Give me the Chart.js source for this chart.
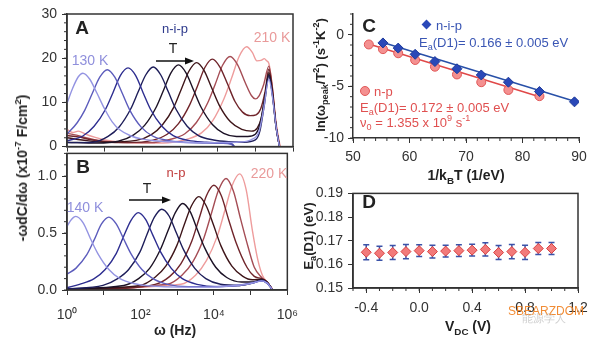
<!DOCTYPE html>
<html><head><meta charset="utf-8">
<script src="https://cdn.jsdelivr.net/npm/chart.js@4.4.1/dist/chart.umd.min.js"></script>
<style>
body{margin:0;background:#fff;}
#wrap{position:relative;width:600px;height:345px;overflow:hidden;font-family:'Liberation Sans',Arial,sans-serif;color:#222;}
canvas{position:absolute;}
.t{position:absolute;transform:translate(-50%,-50%);white-space:nowrap;line-height:1;}
.l{position:absolute;transform:translateY(-50%);white-space:nowrap;line-height:1;}
.b{font-weight:bold;}
.rot{transform:translate(-50%,-50%) rotate(-90deg);}
sub,sup{font-size:70%;line-height:0;}
</style></head><body><div id="wrap">
<canvas id="cA" width="310" height="160" style="left:0;top:0"></canvas>
<canvas id="cB" width="310" height="205" style="left:0;top:140px"></canvas>
<canvas id="cC" width="300" height="172" style="left:300px;top:0"></canvas>
<canvas id="cD" width="300" height="165" style="left:300px;top:180px"></canvas>

<div class="t b rot" style="left:22px;top:168px;font-size:14px">-ωdC/dω (x10<sup>-7</sup> F/cm<sup>2</sup>)</div>
<div class="t b" style="left:82px;top:27px;font-size:19px">A</div>
<div class="t" style="left:175px;top:28px;font-size:13px;color:#2e3a8c">n-i-p</div>
<div class="t" style="left:173px;top:48px;font-size:14px">T</div>
<div class="t" style="left:90px;top:60px;font-size:14px;color:#8f8fdc">130 K</div>
<div class="t" style="left:272px;top:37px;font-size:14px;color:#e99a9a">210 K</div>
<svg style="position:absolute;left:0;top:0" width="300" height="345">
<line x1="156" y1="61" x2="186" y2="61" stroke="#111" stroke-width="1.5"/><polygon points="194,61 185,57.5 185,64.5" fill="#111"/>
<line x1="129" y1="200" x2="163" y2="200" stroke="#111" stroke-width="1.5"/><polygon points="171,200 162,196.5 162,203.5" fill="#111"/>
</svg>
<div class="t b" style="left:83px;top:166px;font-size:19px">B</div>
<div class="t" style="left:176px;top:172px;font-size:13px;color:#c03c3c">n-p</div>
<div class="t" style="left:147px;top:188px;font-size:14px">T</div>
<div class="t" style="left:85px;top:207px;font-size:14px;color:#8f8fdc">140 K</div>
<div class="t" style="left:269px;top:173px;font-size:14px;color:#e99a9a">220 K</div>
<div class="t b" style="left:175px;top:330px;font-size:14px">ω (Hz)</div>

<div class="t b rot" style="left:320px;top:75px;font-size:13px">ln(ω<sub>peak</sub>/T<sup>2</sup>) (s<sup>-1</sup>K<sup>-2</sup>)</div>
<div class="t b" style="left:369px;top:25px;font-size:19px">C</div>
<div style="position:absolute;left:423px;top:21px;width:7px;height:7px;background:#2a48b8;transform:rotate(45deg)"></div>
<div class="l" style="left:436px;top:25px;font-size:13px;color:#3a56b4">n-i-p</div>
<div class="l" style="left:419px;top:42px;font-size:13px;color:#3a56b4">E<sub>a</sub>(D1)= 0.166 ± 0.005 eV</div>
<div style="position:absolute;left:360px;top:86px;width:8px;height:8px;border-radius:50%;background:#f49090;border:1px solid #e05858"></div>
<div class="l" style="left:374px;top:91px;font-size:13px;color:#e05050">n-p</div>
<div class="l" style="left:360px;top:107px;font-size:13px;color:#e05050">E<sub>a</sub>(D1)= 0.172 ± 0.005 eV</div>
<div class="l" style="left:360px;top:122px;font-size:13px;color:#e05050">ν<sub>0</sub> = 1.355 x 10<sup>9</sup> s<sup>-1</sup></div>
<div class="t b" style="left:466px;top:175px;font-size:14px">1/k<sub>B</sub>T (1/eV)</div>

<div class="t b rot" style="left:308px;top:236px;font-size:13px">E<sub>a</sub>(D1) (eV)</div>
<div class="t b" style="left:369px;top:201px;font-size:19px">D</div>
<div class="t b" style="left:468px;top:326px;font-size:14px">V<sub>DC</sub> (V)</div>
<div class="l" style="left:508px;top:311px;font-size:12px;color:#f08020;opacity:0.9">SBEARZDOM</div>
<div class="l" style="left:522px;top:318px;font-size:11px;color:#bbb;opacity:0.7">能源学人</div>
</div>
<script>
// panel A: n-i-p, [log10 ω, -ωdC/dω (1e-7 F/cm2)]
const tempsA=[130,140,150,160,170,180,190,200,210];
const a130=[[0,9.8],[0.15,13.2],[0.3,15.8],[0.42,16.6],[0.6,15.3],[0.8,12.0],[1.0,8.5],[1.2,5.6],[1.4,3.8],[1.7,2.4],[2.0,1.7],[2.5,1.2],[3.0,1.0],[3.5,0.9],[4.0,0.9],[4.5,1.0],[4.9,1.6],[5.1,3.5],[5.22,8.5],[5.36,15.2],[5.45,11.5],[5.55,4.5],[5.64,0]];
const a140=[[0,2.8],[0.27,5.4],[0.47,8.2],[0.67,12.0],[0.87,15.7],[1.07,17.4],[1.27,15.7],[1.47,12.0],[1.67,8.2],[1.97,4.4],[2.27,2.4],[2.67,1.4],[3.1,1.0],[3.8,0.8],[4.35,0.6],[4.42,0]];
const a150=[[0,1.3],[0.42,2.4],[0.72,4.6],[1.02,8.4],[1.22,12.2],[1.42,16.1],[1.62,17.8],[1.82,16.1],[2.02,12.2],[2.22,8.4],[2.52,4.6],[2.82,2.5],[3.22,1.4],[3.7,1.0],[4.1,0.8],[4.38,0.6],[4.45,0]];
const a160=[[0,0.9],[0.69,1.0],[1.09,2.3],[1.39,4.5],[1.69,8.5],[1.89,12.4],[2.09,16.2],[2.29,18.0],[2.49,16.2],[2.69,12.4],[2.89,8.5],[3.19,4.6],[3.49,2.5],[3.89,1.5],[4.3,1.1],[4.7,1.0],[5.0,1.5],[5.12,3.5],[5.24,9.5],[5.36,16.0],[5.45,12.0],[5.55,4.5],[5.64,0]];
const a170=[[0,1.0],[0.8,0.8],[1.36,1.2],[1.76,2.6],[2.06,4.8],[2.36,8.8],[2.56,12.7],[2.76,16.7],[2.96,18.5],[3.16,16.7],[3.36,12.8],[3.56,8.9],[3.86,5.0],[4.16,3.0],[4.5,2.3],[4.8,2.3],[5.0,2.8],[5.12,5.0],[5.24,10.5],[5.36,16.3],[5.45,12.0],[5.55,4.5],[5.64,0]];
const a180=[[0,2.0],[0.4,1.5],[1.0,1.0],[1.84,1.4],[2.24,2.7],[2.54,5.0],[2.84,9.0],[3.04,13.1],[3.24,17.1],[3.44,19.0],[3.64,17.2],[3.84,13.3],[4.04,9.4],[4.34,5.6],[4.64,3.9],[4.9,3.5],[5.05,4.2],[5.16,6.5],[5.26,11.5],[5.36,16.8],[5.45,12.5],[5.55,4.5],[5.64,0]];
const a190=[[0,2.5],[0.3,2.2],[0.6,1.6],[1.0,1.1],[1.6,0.9],[2.26,1.4],[2.66,2.8],[2.96,5.2],[3.26,9.5],[3.46,13.6],[3.66,17.9],[3.86,19.8],[4.06,18.0],[4.26,14.2],[4.46,10.2],[4.66,7.8],[4.86,7.0],[5.02,7.2],[5.14,8.5],[5.26,12.5],[5.36,17.5],[5.45,13.0],[5.55,4.5],[5.64,0]];
const a200=[[0,3.0],[0.25,2.6],[0.5,2.0],[0.9,1.3],[1.5,0.9],[2.2,0.9],[2.73,1.6],[3.13,2.9],[3.43,5.4],[3.73,9.8],[3.93,14.0],[4.13,18.4],[4.33,20.4],[4.53,18.5],[4.73,14.5],[4.9,11.5],[5.0,10.8],[5.1,11.5],[5.22,14.0],[5.36,18.2],[5.45,13.5],[5.55,5.0],[5.65,0]];
const a210=[[0,3.9],[0.15,3.2],[0.3,3.5],[0.5,2.8],[0.75,2.1],[1.0,1.5],[1.5,1.0],[2.2,0.8],[2.8,1.0],[3.17,1.6],[3.57,3.1],[3.87,5.9],[4.17,10.9],[4.37,15.5],[4.57,20.4],[4.77,22.6],[4.92,21.3],[5.04,19.4],[5.15,19.5],[5.24,19.9],[5.3,19.4],[5.36,18.8],[5.45,13.5],[5.55,5.5],[5.66,0]];
const curvesA=[a130,a140,a150,a160,a170,a180,a190,a200,a210];

// panel B: n-p
const tempsB=[140,150,160,170,180,190,200,210,220];
const b140=[[0,0.56],[0.12,0.62],[0.24,0.647],[0.44,0.59],[0.64,0.45],[0.84,0.32],[1.14,0.18],[1.44,0.10],[1.84,0.055],[2.3,0.035],[3.0,0.025],[3.8,0.025],[4.4,0.035],[4.9,0.05],[5.15,0.07],[5.3,0.08],[5.45,0.06],[5.58,0.01]];
const b150=[[0,0.14],[0.24,0.19],[0.54,0.31],[0.74,0.44],[0.94,0.58],[1.14,0.64],[1.34,0.58],[1.54,0.45],[1.74,0.32],[2.04,0.18],[2.34,0.10],[2.74,0.05],[3.3,0.03],[4.0,0.03],[4.6,0.04],[5.0,0.06],[5.3,0.08],[5.45,0.06],[5.58,0.01]];
const b160=[[0,0.02],[0.34,0.05],[0.74,0.1],[1.04,0.18],[1.34,0.32],[1.54,0.47],[1.74,0.61],[1.94,0.68],[2.14,0.62],[2.34,0.48],[2.54,0.34],[2.84,0.19],[3.14,0.10],[3.54,0.05],[4.1,0.03],[4.7,0.04],[5.05,0.06],[5.3,0.08],[5.45,0.06],[5.58,0.01]];
const b170=[[0,0.01],[0.98,0.04],[1.38,0.1],[1.68,0.18],[1.98,0.33],[2.18,0.49],[2.38,0.64],[2.58,0.71],[2.78,0.65],[2.98,0.50],[3.18,0.35],[3.48,0.19],[3.78,0.10],[4.18,0.05],[4.7,0.04],[5.05,0.06],[5.3,0.085],[5.45,0.06],[5.58,0.01]];
const b180=[[0,0.01],[1.55,0.04],[1.95,0.1],[2.25,0.19],[2.55,0.36],[2.75,0.52],[2.95,0.68],[3.15,0.76],[3.35,0.69],[3.55,0.53],[3.75,0.37],[4.05,0.2],[4.35,0.11],[4.75,0.07],[5.05,0.07],[5.3,0.09],[5.45,0.065],[5.58,0.01]];
const b190=[[0,0.01],[1.99,0.04],[2.39,0.11],[2.69,0.21],[2.99,0.39],[3.19,0.57],[3.39,0.74],[3.59,0.82],[3.79,0.74],[3.99,0.57],[4.19,0.39],[4.49,0.21],[4.79,0.12],[5.05,0.09],[5.3,0.095],[5.45,0.07],[5.58,0.01]];
const b200=[[0,0.01],[0.8,0.01],[2.4,0.05],[2.8,0.12],[3.1,0.23],[3.4,0.43],[3.6,0.63],[3.8,0.83],[4.0,0.92],[4.2,0.83],[4.4,0.62],[4.6,0.42],[4.9,0.2],[5.1,0.12],[5.3,0.1],[5.45,0.07],[5.58,0.01]];
const b210=[[0,0.01],[2.73,0.05],[3.13,0.13],[3.43,0.25],[3.73,0.46],[3.93,0.67],[4.13,0.88],[4.33,0.98],[4.53,0.87],[4.73,0.62],[4.93,0.38],[5.1,0.2],[5.3,0.11],[5.45,0.07],[5.58,0.01]];
const b220=[[0,0.01],[3.1,0.05],[3.5,0.13],[3.8,0.26],[4.1,0.48],[4.3,0.7],[4.5,0.92],[4.7,1.02],[4.88,0.88],[5.05,0.52],[5.2,0.26],[5.32,0.13],[5.45,0.07],[5.6,0.01]];
const curvesB=[b140,b150,b160,b170,b180,b190,b200,b210,b220];

// panel C: Arrhenius
const nipX=[55.3,58.0,61.0,64.5,68.4,72.7,77.5,83.0,89.2];
const nipY=[-0.8,-1.3,-1.9,-2.6,-3.3,-3.9,-4.6,-5.5,-6.5];
const npX=[52.8,55.3,58.0,61.0,64.5,68.4,72.7,77.5,83.0];
const npY=[-0.95,-1.4,-1.8,-2.45,-3.1,-3.85,-4.6,-5.35,-5.95];
const nipFitX=[55.3,89.2], nipFitY=[-0.75,-6.45];
const npFitX=[52.8,83.0], npFitY=[-0.9,-6.0];

// panel D: Ea vs VDC
const vdc=[-0.4,-0.3,-0.2,-0.1,0.0,0.1,0.2,0.3,0.4,0.5,0.6,0.7,0.8,0.9,1.0];
const eaD=[0.1651,0.1647,0.1650,0.1654,0.1658,0.1654,0.1656,0.1658,0.1660,0.1663,0.1650,0.1654,0.1651,0.1667,0.1667];
const eaErr=[0.0032,0.003,0.003,0.003,0.0025,0.0027,0.0025,0.0025,0.0025,0.0028,0.003,0.003,0.003,0.0025,0.0025];

const decadeTicks=[1,10,100,1e3,1e4,1e5,1e6];
const lineColors=['#9494e2','#5c5cbc','#2e2e90','#1e1e5a','#1c1226','#3e1519','#70252b','#a54d55','#ee9c9c'];
const axisC='#333', font={family:"'Liberation Sans', Arial, sans-serif",size:14};
const supDigit={0:'⁰',2:'²',4:'⁴',6:'⁶'};

const frame={id:'frame',afterDraw(chart,args,opts){if(!opts.on)return;const a=chart.chartArea,ctx=chart.ctx;ctx.save();ctx.strokeStyle=axisC;ctx.lineWidth=1.5;ctx.strokeRect(a.left,a.top,a.right-a.left,a.bottom-a.top);ctx.restore();}};
const minorTicks={id:'minorTicks',afterDraw(chart,args,opts){const ctx=chart.ctx;ctx.save();ctx.strokeStyle=axisC;ctx.lineWidth=1;
  for(const id in (opts.steps||{})){const s=chart.scales[id],st=opts.steps[id],n=Math.round((s.max-s.min)/st);
    for(let k=0;k<=n;k++){const p=s.getPixelForValue(s.min+k*st);ctx.beginPath();
      if(s.isHorizontal()){ctx.moveTo(p,s.top);ctx.lineTo(p,s.top+3);}else{ctx.moveTo(s.right,p);ctx.lineTo(s.right-3,p);}
      ctx.stroke();}}
  ctx.restore();}};
const errBars={id:'errBars',beforeDatasetsDraw(chart){const x=chart.scales.x,y=chart.scales.y,ctx=chart.ctx;ctx.save();ctx.strokeStyle='#3a52a8';ctx.lineWidth=1.5;
  vdc.forEach((v,i)=>{const px=x.getPixelForValue(v),t=y.getPixelForValue(eaD[i]+eaErr[i]),b=y.getPixelForValue(eaD[i]-eaErr[i]);
    ctx.beginPath();ctx.moveTo(px,t);ctx.lineTo(px,b);ctx.moveTo(px-3,t);ctx.lineTo(px+3,t);ctx.moveTo(px-3,b);ctx.lineTo(px+3,b);ctx.stroke();});
  ctx.restore();}};

function axis(extra){return Object.assign({grid:{drawOnChartArea:false,tickLength:5,color:axisC,tickColor:axisC},border:{color:axisC,width:1.5},ticks:{font,color:axisC}},extra);}
function fixedTicks(vals){return s=>{s.ticks=vals.map(v=>({value:v}));};}
function curveSets(curves){return curves.map((c,i)=>({data:c.map(p=>({x:Math.pow(10,p[0]),y:p[1]})),borderColor:lineColors[i],borderWidth:1.4,pointRadius:0,cubicInterpolationMode:'monotone',fill:false}));}
const base={responsive:false,animation:false,devicePixelRatio:1,events:[]};

new Chart(document.getElementById('cA'),{type:'line',data:{datasets:curveSets(curvesA)},plugins:[frame,minorTicks],
  options:Object.assign({},base,{layout:{padding:{top:14,right:17,left:0,bottom:0}},
    plugins:{legend:{display:false},tooltip:{enabled:false},frame:{on:true},minorTicks:{steps:{y:2}}},
    scales:{x:axis({type:'logarithmic',min:1,max:1e6,afterBuildTicks:fixedTicks(decadeTicks),ticks:{display:false},afterFit:s=>{s.height=9;}}),
      y:axis({min:0,max:30,afterBuildTicks:fixedTicks([0,10,20,30]),ticks:{font,color:axisC,padding:5,callback:v=>String(v)},afterFit:s=>{s.width=67;}})}})});

new Chart(document.getElementById('cB'),{type:'line',data:{datasets:curveSets(curvesB)},plugins:[frame,minorTicks],
  options:Object.assign({},base,{layout:{padding:{top:11,right:17,left:0,bottom:0}},
    plugins:{legend:{display:false},tooltip:{enabled:false},frame:{on:true},minorTicks:{steps:{y:0.1}}},
    scales:{x:axis({type:'logarithmic',min:1,max:1e6,afterBuildTicks:fixedTicks(decadeTicks),
        ticks:{font,color:axisC,padding:12,maxRotation:0,autoSkip:false,callback:v=>{const e=Math.round(Math.log10(v));return supDigit[e]?'10'+supDigit[e]:'';}},afterFit:s=>{s.height=55;}}),
      y:axis({min:0,max:1.2,afterBuildTicks:fixedTicks([0,0.5,1.0]),ticks:{font,color:axisC,padding:5,callback:v=>v.toFixed(1)},afterFit:s=>{s.width=67;}})}})});

new Chart(document.getElementById('cC'),{type:'scatter',
  data:{datasets:[
    {type:'line',data:nipFitX.map((x,i)=>({x,y:nipFitY[i]})),borderColor:'#2850a8',borderWidth:1.5,pointRadius:0,order:3},
    {type:'line',data:npFitX.map((x,i)=>({x,y:npFitY[i]})),borderColor:'#e04848',borderWidth:1.5,pointRadius:0,order:4},
    {data:nipX.map((x,i)=>({x,y:nipY[i]})),pointStyle:'rectRot',pointRadius:5,backgroundColor:'#2a48b8',borderColor:'#1e3a9a',borderWidth:1,order:1},
    {data:npX.map((x,i)=>({x,y:npY[i]})),pointStyle:'circle',pointRadius:4.5,backgroundColor:'#f49090',borderColor:'#e05858',borderWidth:1,order:2}]},
  plugins:[minorTicks],
  options:Object.assign({},base,{layout:{padding:{top:14,right:21,left:0,bottom:0}},
    plugins:{legend:{display:false},tooltip:{enabled:false},minorTicks:{steps:{x:2,y:1}}},
    scales:{x:axis({type:'linear',min:50,max:90,afterBuildTicks:fixedTicks([50,60,70,80,90]),ticks:{font,color:axisC,padding:6,maxRotation:0},afterFit:s=>{s.height=34;}}),
      y:axis({min:-10,max:2,afterBuildTicks:fixedTicks([-10,-5,0]),ticks:{font,color:axisC,padding:4,callback:v=>String(v)},afterFit:s=>{s.width=53;}})}})});

new Chart(document.getElementById('cD'),{type:'scatter',
  data:{datasets:[{data:vdc.map((x,i)=>({x,y:eaD[i]})),pointStyle:'rectRot',pointRadius:5,backgroundColor:'#f27a7a',borderColor:'#d84040',borderWidth:1}]},
  plugins:[frame,minorTicks,errBars],
  options:Object.assign({},base,{layout:{padding:{top:9,right:22,left:0,bottom:0}},
    plugins:{legend:{display:false},tooltip:{enabled:false},frame:{on:true},minorTicks:{steps:{x:0.1}}},
    scales:{x:axis({type:'linear',min:-0.5,max:1.2,afterBuildTicks:fixedTicks([-0.4,0,0.4,0.8,1.2]),ticks:{font,color:axisC,padding:7,maxRotation:0,callback:v=>v.toFixed(1)},afterFit:s=>{s.height=57;}}),
      y:axis({min:0.15,max:0.19,afterBuildTicks:fixedTicks([0.15,0.16,0.17,0.18,0.19]),ticks:{font,color:axisC,padding:5,callback:v=>v.toFixed(2)},afterFit:s=>{s.width=53;}})}})});
</script>
</body></html>
